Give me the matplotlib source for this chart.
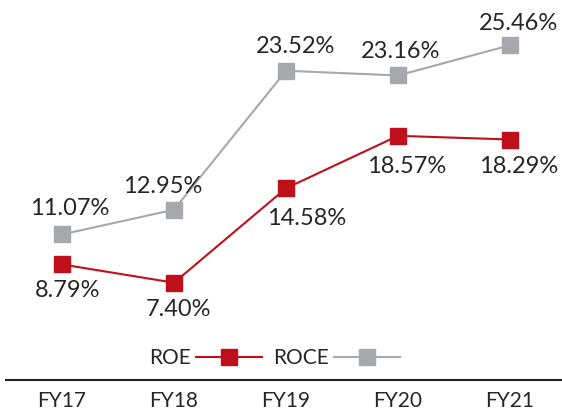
import matplotlib

matplotlib.use("Agg")
import matplotlib.pyplot as plt

years = ["FY17", "FY18", "FY19", "FY20", "FY21"]
roe = [8.79, 7.40, 14.58, 18.57, 18.29]
roce = [11.07, 12.95, 23.52, 23.16, 25.46]

RED = "#BE0F1A"
GREY = "#A7A8AC"
TXT = "#262626"

plt.rcParams["font.family"] = ["Lato", "DejaVu Sans"]

fig = plt.figure(figsize=(5.62, 4.12), dpi=100)
ax = fig.add_axes([6 / 562, 32 / 412, 556 / 562, 380 / 412])

x = list(range(len(years)))
ax.plot(x, roe, "-s", color=RED, lw=1.5, ms=11.5, label="ROE", zorder=3)
ax.plot(x, roce, "-s", color=GREY, lw=1.5, ms=11.5, label="ROCE", zorder=3)

# label offsets in pixels (dx, dy)
roe_off = [(6, -26), (4, -27), (21, -30), (9, -31), (9, -27)]
roce_off = [(8, 26), (-11, 23), (10, 24), (3, 24), (8, 22)]
px = 72 / 100
for i, v in enumerate(roe):
    dx, dy = roe_off[i]
    ax.annotate(f"{v:.2f}%", (i, v), xytext=(dx * px, dy * px), textcoords="offset points",
                ha="center", va="center", fontsize=17, color=TXT)
for i, v in enumerate(roce):
    dx, dy = roce_off[i]
    ax.annotate(f"{v:.2f}%", (i, v), xytext=(dx * px, dy * px), textcoords="offset points",
                ha="center", va="center", fontsize=17, color=TXT)

ax.set_xlim(-0.5, 4.464)
ax.set_ylim(0, 28.9)
ax.set_xticks(x)
ax.set_xticklabels(years, fontsize=15, color=TXT)
ax.tick_params(axis="x", length=0, pad=8)
ax.set_yticks([])
for s in ["top", "right", "left"]:
    ax.spines[s].set_visible(False)
ax.spines["bottom"].set_linewidth(1.5)
ax.spines["bottom"].set_color("#222222")

ax.legend(loc="center", bbox_to_anchor=(0.483, 0.058), ncol=2, frameon=False,
          markerfirst=False, handlelength=3.2, handletextpad=0.25, columnspacing=0.5,
          borderpad=0, fontsize=15, labelcolor=TXT)

fig.savefig("out.png", dpi=100)
